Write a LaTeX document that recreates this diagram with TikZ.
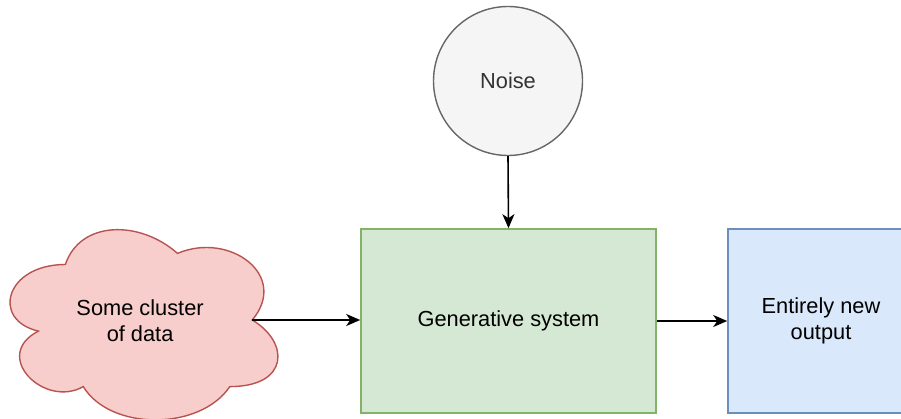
\documentclass[tikz,border=0pt]{standalone}
\usepackage{fontspec}
\setmainfont{Liberation Sans}
\usetikzlibrary{arrows.meta}

\definecolor{noisefill}{HTML}{F5F5F5}
\definecolor{noisedraw}{HTML}{666666}
\definecolor{noisetext}{HTML}{333333}
\definecolor{genfill}{HTML}{D5E8D4}
\definecolor{gendraw}{HTML}{82B366}
\definecolor{datafill}{HTML}{F8CECC}
\definecolor{datadraw}{HTML}{B85450}
\definecolor{outfill}{HTML}{DAE8FC}
\definecolor{outdraw}{HTML}{6C8EBF}

\tikzset{
  lbl/.style={font=\fontsize{21.8}{26}\selectfont, align=center, inner sep=0pt},
  blockbox/.style={lbl, rectangle, line width=1.6pt, minimum height=184pt},
  arr/.style={line width=1.6pt, -{Stealth[length=14pt,width=12pt,inset=4pt]}}
}

\begin{document}
\begin{tikzpicture}[x=1pt,y=-1pt]
  \useasboundingbox (0,0) rectangle (901,419);
  \clip (0,0) rectangle (901,419);

  % noise source
  \node[lbl, circle, draw=noisedraw, fill=noisefill, text=noisetext,
        line width=1.4pt, minimum size=149pt] (noise) at (508,81) {Noise};

  % generator block
  \node[blockbox, draw=gendraw, fill=genfill, minimum width=295pt]
        (gen) at (508.5,321) {Generative system};

  % output block (runs past the right edge)
  \node[blockbox, draw=outdraw, fill=outfill, minimum width=186pt]
        (out) at (821,321) {Entirely new\\output};

  % data cloud
  \begin{scope}[shift={(-9.4,209)}, x=299pt, y=-222pt]
    \draw[line width=1.4pt, draw=datadraw, fill=datafill]
      (0.25,0.25) .. controls (0.05,0.25) and (0,0.5) .. (0.16,0.55)
      .. controls (0,0.66) and (0.18,0.9) .. (0.31,0.8)
      .. controls (0.4,1) and (0.7,1) .. (0.8,0.8)
      .. controls (1,0.8) and (1,0.6) .. (0.875,0.5)
      .. controls (1,0.3) and (0.8,0.1) .. (0.625,0.2)
      .. controls (0.5,0.05) and (0.3,0.05) .. (0.25,0.25) -- cycle;
    \node[lbl] (data) at (0.5,0.505) {Some cluster\\of data};
    \coordinate (dataR) at (0.875,0.5);
  \end{scope}

  % connectors
  \draw[arr] (noise.south) -- (gen.north);
  \draw[arr] (dataR) -- (dataR -| gen.west);
  \draw[arr] (gen.east) -- (out.west);
\end{tikzpicture}
\end{document}
